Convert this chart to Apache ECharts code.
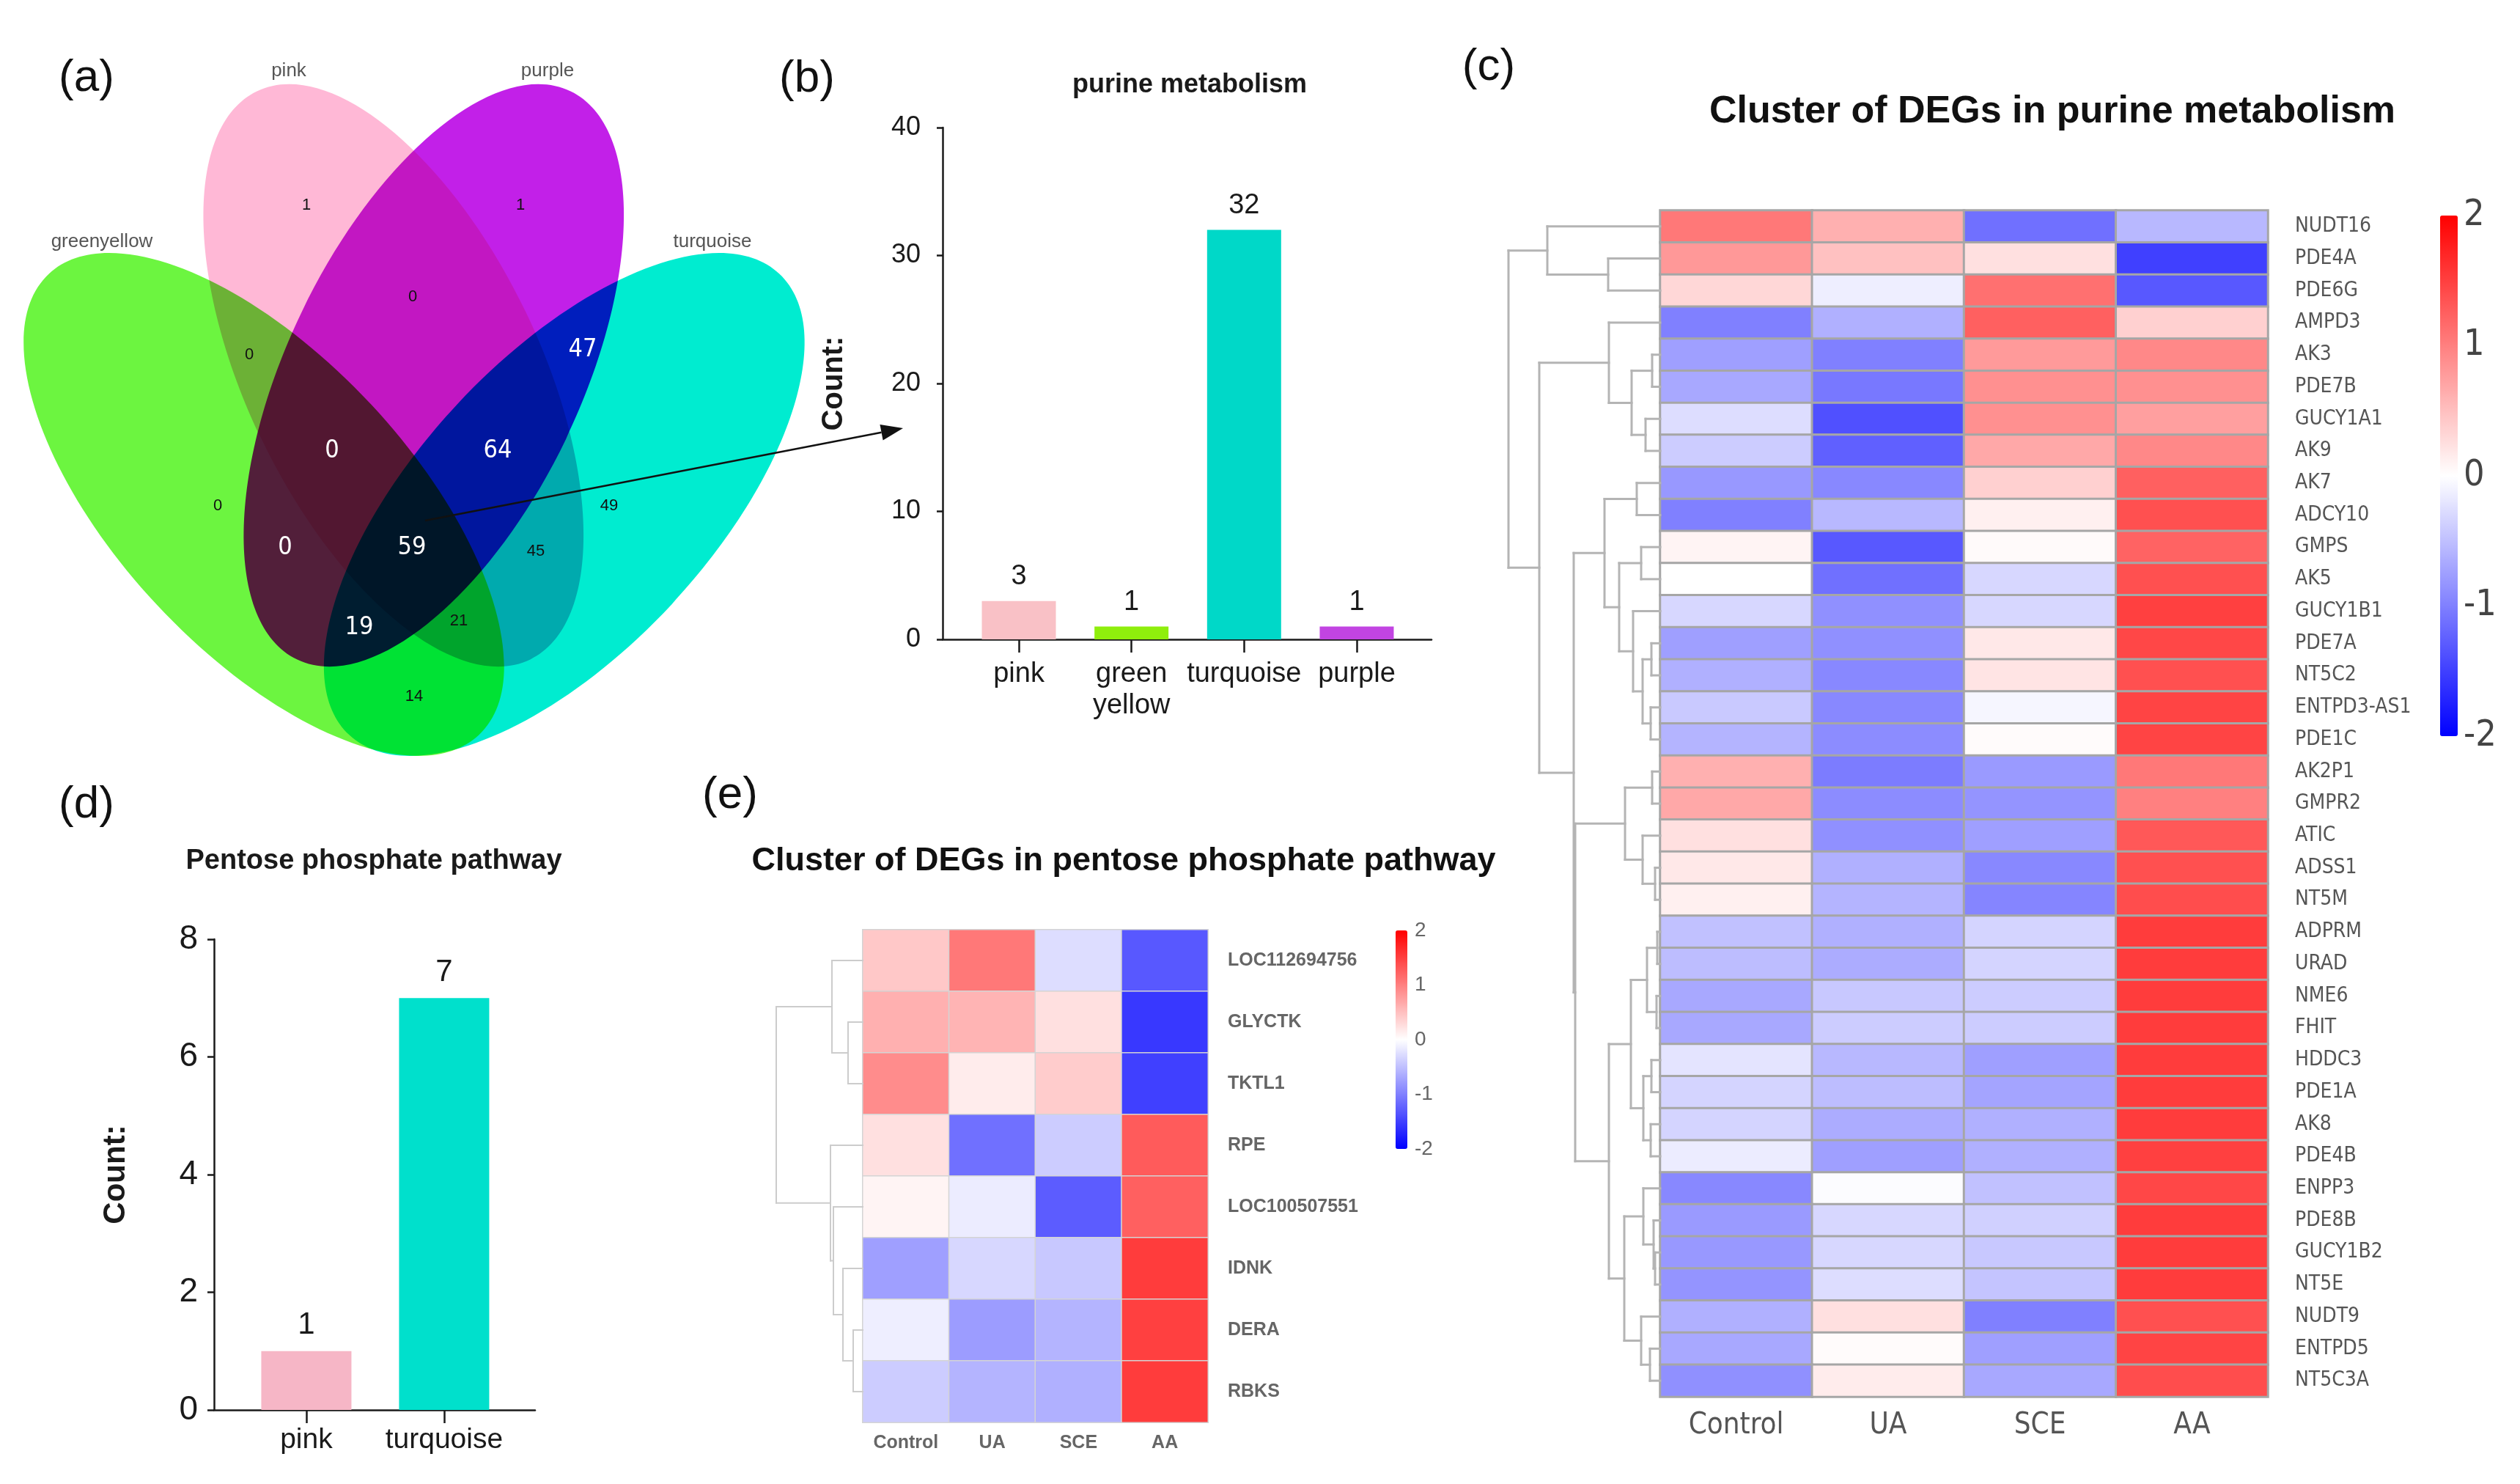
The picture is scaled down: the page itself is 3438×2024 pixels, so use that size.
<!DOCTYPE html>
<html><head><meta charset="utf-8">
<script src="https://cdn.jsdelivr.net/npm/echarts@6/dist/echarts.min.js"></script>
<style>html,body{margin:0;padding:0;background:#fff}#c{width:3438px;height:2024px}</style>
</head><body><div id="c"></div>
<script>
// ================= DATA =================
// (a) Venn diagram
const vennSets = ['greenyellow', 'pink', 'purple', 'turquoise'];
const vennRegions = ['pink', 'purple', 'pink&purple', 'greenyellow&pink', 'purple&turquoise',
  'greenyellow&pink&purple', 'pink&purple&turquoise', 'greenyellow', 'turquoise', 'greenyellow&purple',
  'greenyellow&pink&purple&turquoise', 'pink&turquoise', 'greenyellow&purple&turquoise',
  'greenyellow&pink&turquoise', 'greenyellow&turquoise'];
const vennCounts = [1, 1, 0, 0, 47, 0, 64, 0, 49, 0, 59, 45, 19, 21, 14];

// (b) purine metabolism
const purineModules = ['pink', 'green\nyellow', 'turquoise', 'purple'];
const purineCounts = [3, 1, 32, 1];
const purineYTicks = [0, 40, 10];          // min, max, interval

// (d) pentose phosphate pathway
const pentoseModules = ['pink', 'turquoise'];
const pentoseCounts = [1, 7];
const pentoseYTicks = [0, 8, 2];

// heatmaps
const groups = ['Control', 'UA', 'SCE', 'AA'];
const purineGenes = ['NUDT16','PDE4A','PDE6G','AMPD3','AK3','PDE7B','GUCY1A1','AK9','AK7','ADCY10',
  'GMPS','AK5','GUCY1B1','PDE7A','NT5C2','ENTPD3-AS1','PDE1C','AK2P1','GMPR2','ATIC','ADSS1','NT5M',
  'ADPRM','URAD','NME6','FHIT','HDDC3','PDE1A','AK8','PDE4B','ENPP3','PDE8B','GUCY1B2','NT5E',
  'NUDT9','ENTPD5','NT5C3A'];
const purineZ = [
  [1.06, 0.62, -1.12, -0.56], [0.81, 0.49, 0.24, -1.5], [0.31, -0.13, 1.12, -1.31],
  [-1.0, -0.62, 1.25, 0.37], [-0.75, -1.0, 0.79, 0.93], [-0.68, -1.06, 0.87, 0.87],
  [-0.27, -1.37, 0.87, 0.75], [-0.4, -1.25, 0.68, 0.93], [-0.81, -0.93, 0.37, 1.25],
  [-1.0, -0.56, 0.12, 1.37], [0.09, -1.31, 0.04, 1.22], [0.0, -1.12, -0.31, 1.37],
  [-0.31, -0.87, -0.31, 1.5], [-0.75, -0.87, 0.18, 1.44], [-0.62, -0.93, 0.21, 1.37],
  [-0.42, -0.93, -0.07, 1.47], [-0.59, -0.9, 0.03, 1.47], [0.62, -1.03, -0.79, 1.06],
  [0.68, -0.9, -0.84, 1.0], [0.24, -0.87, -0.75, 1.31], [0.18, -0.62, -0.93, 1.37],
  [0.12, -0.59, -0.96, 1.4], [-0.49, -0.62, -0.34, 1.53], [-0.52, -0.65, -0.34, 1.53],
  [-0.68, -0.43, -0.4, 1.53], [-0.68, -0.4, -0.4, 1.53], [-0.21, -0.56, -0.75, 1.53],
  [-0.34, -0.52, -0.71, 1.53], [-0.34, -0.65, -0.62, 1.53], [-0.15, -0.75, -0.62, 1.5],
  [-0.93, -0.02, -0.49, 1.44], [-0.79, -0.31, -0.37, 1.53], [-0.81, -0.31, -0.43, 1.53],
  [-0.84, -0.27, -0.46, 1.53], [-0.62, 0.24, -1.0, 1.37], [-0.68, 0.03, -0.75, 1.47],
  [-0.87, 0.15, -0.68, 1.4]
];
// row dendrogram: [height, left, right]; numbers are row indices
const purineTree = [207,
  [154, 0, [71, 1, 2]],
  [165,
    [70, 3, [39, [11, 4, 5], [20, 6, 7]]],
    [118,
      [76, [32, 8, 9], [56, [26, 10, 11], [37, 12, [24, [12, 13, 14], [13, 15, 16]]]]],
      [116,
        [48, [11, 17, 18], [24, 19, [7, 20, 21]]],
        [70,
          [40, [18, [4, 22, 23], [5, 24, 25]], [23, [12, 26, 27], [13, 28, 29]]],
          [49, [23, 30, [9, 31, [7, 32, 33]]], [26, 34, [14, 35, 36]]]]]]]];

const pentoseGenes = ['LOC112694756','GLYCTK','TKTL1','RPE','LOC100507551','IDNK','DERA','RBKS'];
const pentoseZ = [
  [0.43, 1.06, -0.27, -1.31], [0.62, 0.59, 0.24, -1.56], [0.9, 0.15, 0.4, -1.5],
  [0.24, -1.12, -0.4, 1.29], [0.09, -0.15, -1.28, 1.25], [-0.75, -0.31, -0.43, 1.53],
  [-0.13, -0.78, -0.59, 1.5], [-0.4, -0.59, -0.62, 1.53]
];
const pentoseTree = [118, [42, 0, [20, 1, 2]], [44, 3, [40, 4, [27, 5, [13, 6, 7]]]]];
const zRange = [-2, 2, 1];

// ================= STYLE / LAYOUT =================
const SANS = '"Liberation Sans", Arial, Helvetica, sans-serif';
const NARROW = '"Liberation Sans Narrow", "DejaVu Sans Condensed", "Liberation Sans", sans-serif';
const INK = '#1a1a1a';
const vennFill = {greenyellow: '#6cf540', pink: '#ffb8d6', purple: '#c220e8', turquoise: '#00ecd0'};
const vennEllipse = { // cx, cy, rotation(deg)
  greenyellow: [360, 688, 43], pink: [537, 512, 25.7], purple: [592, 512, -25.7], turquoise: [770, 688, -43]
};
const vennSetLabelPos = {greenyellow: [139, 330], pink: [394, 97], purple: [747, 97], turquoise: [972, 330]};
const vennLabelPos = [[418, 280], [710, 280], [563, 405], [340, 484], [795, 477], [453, 615], [679, 615],
  [297, 690], [831, 690], [389, 747], [562, 747], [731, 752], [490, 856], [626, 847], [565, 950]];
const vennLabelWhite = [false, false, false, false, true, true, true, false, false, true, true, false, true, false, false];
const purineBarColors = ['#f9c1c6', '#8fee0c', '#00d8c8', '#c244e2'];
const pentoseBarColors = ['#f6b6c6', '#00e0cc'];

// ================= HELPERS =================
function dendroSegments(tree) {
  const segs = [];
  function walk(n) {
    if (typeof n === 'number') return {y: n, h: 0};
    const l = walk(n[1]), r = walk(n[2]), h = n[0];
    segs.push([l.h, l.y, h, l.y], [r.h, r.y, h, r.y], [h, l.y, h, r.y]);
    return {y: (l.y + r.y) / 2, h: h};
  }
  walk(tree);
  return segs;
}
function heatData(z) {
  const out = [];
  z.forEach((row, r) => row.forEach((v, c) => out.push([c, r, v])));
  return out;
}
function dendroRender(color, width) {
  return function (params, api) {
    const p1 = api.coord([api.value(0), api.value(1)]);
    const p2 = api.coord([api.value(2), api.value(3)]);
    return {type: 'line', shape: {x1: p1[0], y1: p1[1], x2: p2[0], y2: p2[1]},
      style: {stroke: color, lineWidth: width, lineCap: 'square'}};
  };
}
function txt(text, x, y, size, opts) {
  opts = opts || {};
  return {type: 'text', x: x, y: y, rotation: opts.rotation || 0, z: 100,
    style: {text: text, fontSize: size, fontFamily: opts.family || SANS, fontWeight: opts.weight || 'normal',
      fill: opts.color || INK, align: opts.align || 'center', verticalAlign: 'middle'}};
}

// ================= GRAPHIC (Venn, titles, letters, arrow) =================
const graphics = [];
vennSets.forEach(s => {
  const e = vennEllipse[s];
  graphics.push({type: 'ellipse', x: e[0], y: e[1], rotation: e[2] * Math.PI / 180, z: 1,
    shape: {cx: 0, cy: 0, rx: 200, ry: 430}, style: {fill: vennFill[s], blend: 'multiply'}});
});
vennSets.forEach(s => {
  const p = vennSetLabelPos[s];
  graphics.push(txt(s, p[0], p[1], 26, {color: '#555'}));
});
vennCounts.forEach((c, i) => {
  const p = vennLabelPos[i];
  if (vennLabelWhite[i]) graphics.push(txt(String(c), p[0], p[1], 34, {color: '#ffffff', family: NARROW}));
  else graphics.push(txt(String(c), p[0], p[1], 22, {color: '#111'}));
});
// arrow from Venn centre to panel (b)
(function () {
  const x1 = 580, y1 = 710, x2 = 1232, y2 = 584;
  const dx = x2 - x1, dy = y2 - y1, L = Math.hypot(dx, dy), ux = dx / L, uy = dy / L;
  const hl = 30, hw = 11, bx = x2 - ux * hl, by = y2 - uy * hl;
  graphics.push({type: 'line', z: 100, shape: {x1: x1, y1: y1, x2: bx, y2: by}, style: {stroke: '#111', lineWidth: 2.5}});
  graphics.push({type: 'polygon', z: 100, shape: {points: [[x2, y2], [bx - uy * hw, by + ux * hw], [bx + uy * hw, by - ux * hw]]},
    style: {fill: '#111'}});
})();
// panel letters
[['(a)', 118, 107], ['(b)', 1101, 108], ['(c)', 2031, 92], ['(d)', 118, 1098], ['(e)', 996, 1085]]
  .forEach(l => graphics.push(txt(l[0], l[1], l[2], 62, {color: '#111'})));
// titles
graphics.push(txt('purine metabolism', 1623, 116, 36, {weight: 'bold'}));
graphics.push(txt('Cluster of DEGs in purine metabolism', 2800, 153, 52, {weight: 'bold', color: '#111'}));
graphics.push(txt('Pentose phosphate pathway', 510, 1175, 38, {weight: 'bold'}));
graphics.push(txt('Cluster of DEGs in pentose phosphate pathway', 1533, 1175, 45, {weight: 'bold', color: '#111'}));

// ================= OPTION =================
const axisLineStyle = {color: INK, width: 2.5};
const option = {
  backgroundColor: '#ffffff',
  animation: false,
  textStyle: {fontFamily: SANS},
  grid: [
    {left: 1286, top: 174, width: 667, height: 698},   // 0 (b)
    {left: 292, top: 1281, width: 438, height: 642},   // 1 (d)
    {left: 2265, top: 287, width: 829, height: 1618},  // 2 (c) heatmap
    {left: 2058, top: 287, width: 207, height: 1618},  // 3 (c) dendrogram
    {left: 1177, top: 1268, width: 471, height: 672},  // 4 (e) heatmap
    {left: 1059, top: 1268, width: 118, height: 672},  // 5 (e) dendrogram
    {left: 3329, top: 294, width: 24, height: 710},    // 6 (c) colour bar axis
    {left: 1904, top: 1269, width: 16, height: 298}    // 7 (e) colour bar axis
  ],
  xAxis: [
    {gridIndex: 0, type: 'value', min: -0.677, max: 3.664, splitLine: {show: false},
      axisLine: {show: true, lineStyle: axisLineStyle},
      axisTick: {show: true, customValues: [0, 1, 2, 3], length: 18, lineStyle: axisLineStyle},
      axisLabel: {customValues: [0, 1, 2, 3], formatter: v => purineModules[Math.round(v)], fontSize: 38,
        color: INK, margin: 26, lineHeight: 43}},
    {gridIndex: 1, type: 'value', min: -0.67, max: 1.66, splitLine: {show: false},
      axisLine: {show: true, lineStyle: axisLineStyle},
      axisTick: {show: true, customValues: [0, 1], length: 18, lineStyle: axisLineStyle},
      axisLabel: {customValues: [0, 1], formatter: v => pentoseModules[Math.round(v)], fontSize: 39,
        color: INK, margin: 22}},
    {gridIndex: 2, type: 'category', data: groups, position: 'bottom', axisLine: {show: false},
      axisTick: {show: false}, axisLabel: {fontSize: 40, fontFamily: NARROW, color: '#555', margin: 20}},
    {gridIndex: 3, type: 'value', min: 0, max: 207, inverse: true, show: false},
    {gridIndex: 4, type: 'category', data: groups, position: 'bottom', axisLine: {show: false},
      axisTick: {show: false}, axisLabel: {fontSize: 25, fontWeight: 'bold', color: '#666', margin: 16}},
    {gridIndex: 5, type: 'value', min: 0, max: 118, inverse: true, show: false},
    {gridIndex: 6, type: 'value', min: 0, max: 1, show: false},
    {gridIndex: 7, type: 'value', min: 0, max: 1, show: false}
  ],
  yAxis: [
    {gridIndex: 0, type: 'value', min: purineYTicks[0], max: purineYTicks[1], interval: purineYTicks[2],
      splitLine: {show: false}, axisLine: {show: true, onZero: false, lineStyle: axisLineStyle},
      axisTick: {show: true, length: 8, lineStyle: axisLineStyle},
      axisLabel: {fontSize: 36, color: INK, margin: 30},
      name: 'Count:', nameLocation: 'middle', nameGap: 128,
      nameTextStyle: {fontSize: 40, fontWeight: 'bold', color: INK}},
    {gridIndex: 1, type: 'value', min: pentoseYTicks[0], max: pentoseYTicks[1], interval: pentoseYTicks[2],
      splitLine: {show: false}, axisLine: {show: true, onZero: false, lineStyle: axisLineStyle},
      axisTick: {show: true, length: 9, lineStyle: axisLineStyle},
      axisLabel: {fontSize: 46, color: INK, margin: 22},
      name: 'Count:', nameLocation: 'middle', nameGap: 113,
      nameTextStyle: {fontSize: 42, fontWeight: 'bold', color: INK}},
    {gridIndex: 2, type: 'category', data: purineGenes, inverse: true, position: 'right',
      axisLine: {show: false}, axisTick: {show: false},
      axisLabel: {fontSize: 28, fontFamily: NARROW, color: '#555', margin: 37}},
    {gridIndex: 3, type: 'value', min: -0.5, max: 36.5, inverse: true, show: false},
    {gridIndex: 4, type: 'category', data: pentoseGenes, inverse: true, position: 'right',
      axisLine: {show: false}, axisTick: {show: false},
      axisLabel: {fontSize: 25, fontWeight: 'bold', color: '#666', margin: 27}},
    {gridIndex: 5, type: 'value', min: -0.5, max: 7.5, inverse: true, show: false},
    {gridIndex: 6, type: 'value', min: zRange[0], max: zRange[1], interval: zRange[2], position: 'right',
      splitLine: {show: false}, axisLine: {show: false}, axisTick: {show: false},
      axisLabel: {fontSize: 50, fontFamily: NARROW, color: '#444', margin: 8}},
    {gridIndex: 7, type: 'value', min: zRange[0], max: zRange[1], interval: zRange[2], position: 'right',
      splitLine: {show: false}, axisLine: {show: false}, axisTick: {show: false},
      axisLabel: {fontSize: 28, color: '#666', margin: 10}}
  ],
  visualMap: [
    {type: 'continuous', seriesIndex: 2, min: zRange[0], max: zRange[1], calculable: false,
      orient: 'vertical', left: 3329, top: 294, itemWidth: 24, itemHeight: 710, padding: 0,
      inRange: {color: ['#0000ff', '#ffffff', '#ff0000']}},
    {type: 'continuous', seriesIndex: 4, min: zRange[0], max: zRange[1], calculable: false,
      orient: 'vertical', left: 1904, top: 1269, itemWidth: 16, itemHeight: 298, padding: 0,
      inRange: {color: ['#0000ff', '#ffffff', '#ff0000']}}
  ],
  series: [
    {type: 'bar', xAxisIndex: 0, yAxisIndex: 0, barWidth: 101,
      data: purineCounts.map((v, i) => ({value: [i, v], itemStyle: {color: purineBarColors[i]}})),
      label: {show: true, position: 'top', distance: 14, fontSize: 38, color: INK, formatter: p => p.value[1]}},
    {type: 'bar', xAxisIndex: 1, yAxisIndex: 1, barWidth: 123,
      data: pentoseCounts.map((v, i) => ({value: [i, v], itemStyle: {color: pentoseBarColors[i]}})),
      label: {show: true, position: 'top', distance: 14, fontSize: 42, color: INK, formatter: p => p.value[1]}},
    {type: 'heatmap', xAxisIndex: 2, yAxisIndex: 2, data: heatData(purineZ),
      itemStyle: {borderColor: '#a6a6a6', borderWidth: 3}},
    {type: 'custom', xAxisIndex: 3, yAxisIndex: 3, data: dendroSegments(purineTree),
      renderItem: dendroRender('#b4b4b4', 3), silent: true},
    {type: 'heatmap', xAxisIndex: 4, yAxisIndex: 4, data: heatData(pentoseZ),
      itemStyle: {borderColor: '#d4d4d4', borderWidth: 1.5}},
    {type: 'custom', xAxisIndex: 5, yAxisIndex: 5, data: dendroSegments(pentoseTree),
      renderItem: dendroRender('#cccccc', 2), silent: true},
    {type: 'scatter', xAxisIndex: 6, yAxisIndex: 6, data: []},
    {type: 'scatter', xAxisIndex: 7, yAxisIndex: 7, data: []}
  ],
  graphic: {elements: graphics}
};

const chart = echarts.init(document.getElementById('c'), null, {renderer: 'canvas'});
chart.setOption(option);
</script>
</body></html>
